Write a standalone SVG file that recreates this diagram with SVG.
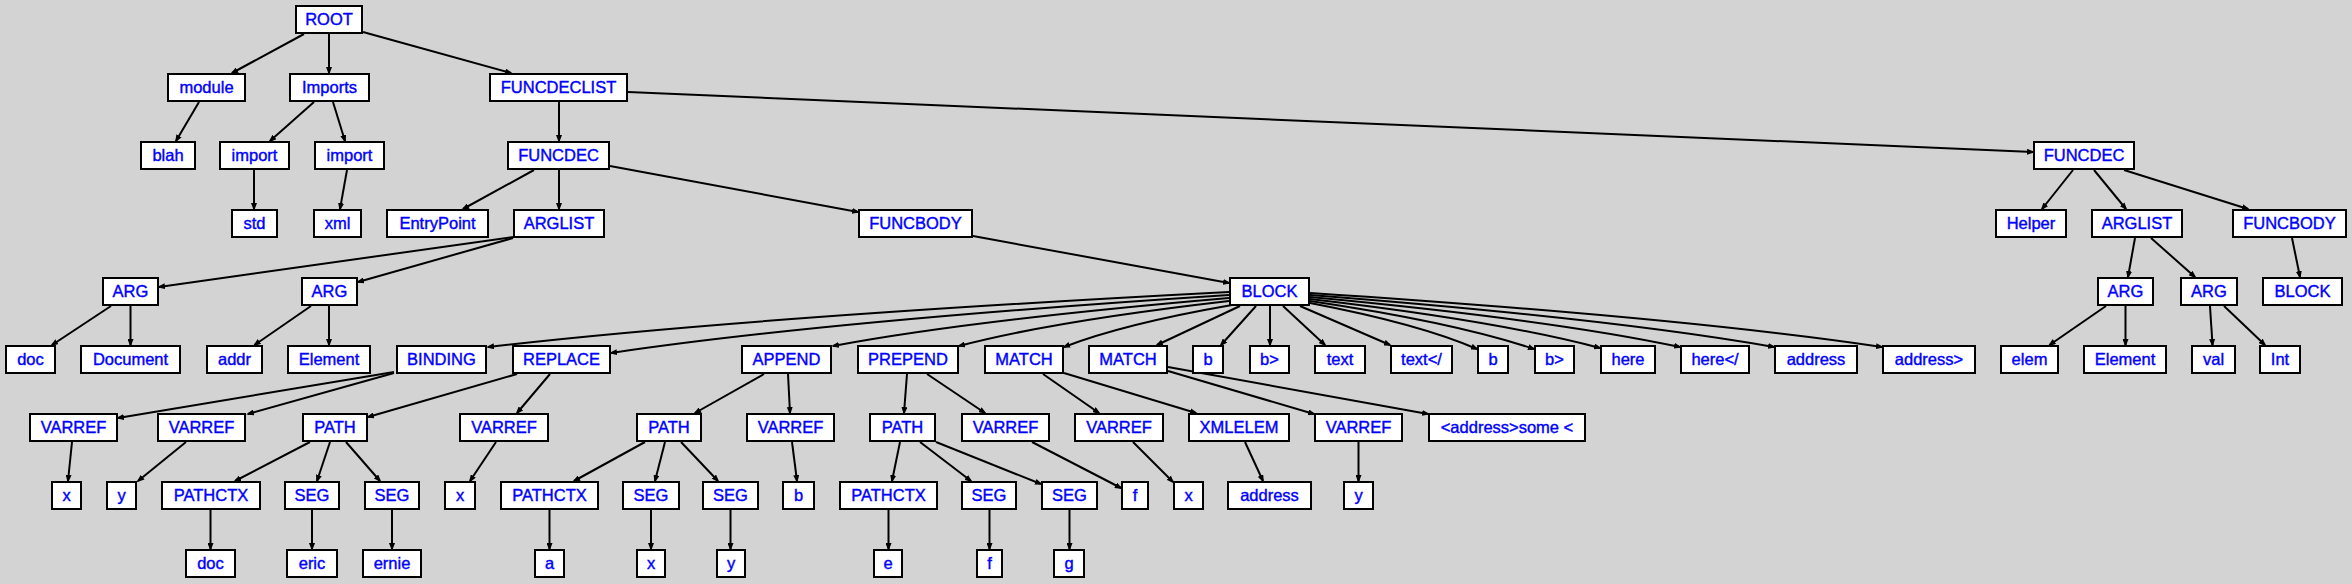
<svg xmlns="http://www.w3.org/2000/svg" width="2352" height="584" viewBox="0 0 2352 584">
<style>
.n rect{fill:#fff;stroke:#000;stroke-width:2}
.n text{font-family:"Liberation Sans",Arial,sans-serif;font-size:16.5px;fill:#0000ff;stroke:#0000ff;stroke-width:0.4px;text-anchor:middle}
.e path{fill:none;stroke:#000;stroke-width:2;marker-end:url(#ah)}
</style>
<defs>
<marker id="ah" markerUnits="userSpaceOnUse" markerWidth="8" markerHeight="6" refX="6" refY="3" orient="auto">
<path d="M0,0 L8,3 L0,6 z" fill="#000"/>
</marker>
</defs>
<rect x="0" y="0" width="2352" height="584" fill="#d3d3d3"/>
<g id="connectors" class="e">
<path d="M304,34 L232,73"/>
<path d="M329,34 L329,73"/>
<path d="M363,32 L511,73"/>
<path d="M199,102 L176,141"/>
<path d="M314,102 L270,141"/>
<path d="M333,102 L345,141"/>
<path d="M559,102 L559,141"/>
<path d="M628,92 L2033,152"/>
<path d="M254,170 L254,209"/>
<path d="M347,170 L340,209"/>
<path d="M534,170 L463,209"/>
<path d="M559,170 L559,209"/>
<path d="M610,166 L858,212"/>
<path d="M2073,170 L2042,209"/>
<path d="M2094,170 L2126,209"/>
<path d="M2124,170 L2248,209"/>
<path d="M513,237 L159,287"/>
<path d="M513,238 L358,282"/>
<path d="M973,236 L1229,283"/>
<path d="M2135,238 L2128,277"/>
<path d="M2151,238 L2195,277"/>
<path d="M2292,238 L2300,277"/>
<path d="M111,306 L52,345"/>
<path d="M130.5,306 L130.5,345"/>
<path d="M311,306 L254.5,345"/>
<path d="M329,306 L329,345"/>
<path d="M2106,306 L2049.5,345"/>
<path d="M2125.5,306 L2125.5,345"/>
<path d="M2210,306 L2212.5,345"/>
<path d="M2224,306 L2265,345"/>
<path d="M1229,292 Q747,317 488,347"/>
<path d="M1229,295 Q827,321 611,353"/>
<path d="M1229,298 Q972,320 833,346"/>
<path d="M1229,301 Q1054,321 959,346"/>
<path d="M1232,305 Q1123,324 1064,347"/>
<path d="M1240,306 L1157,345"/>
<path d="M1256,306 L1221,345"/>
<path d="M1270,306 L1270,345"/>
<path d="M1283,306 L1325,345"/>
<path d="M1300,306 L1390,345"/>
<path d="M1310,303 Q1418.5,323.7 1477,349"/>
<path d="M1310,301 Q1455.6,322.6 1534,349"/>
<path d="M1310,299 Q1498.5,321 1600,348"/>
<path d="M1310,297 Q1550.5,319.5 1680,347"/>
<path d="M1310,295 Q1611.6,318.4 1774,347"/>
<path d="M1310,293 Q1681.8,317.3 1882,347"/>
<path d="M394,372 L118,418"/>
<path d="M394,373 L248,414"/>
<path d="M517,374 L368,417"/>
<path d="M550,374 L517,413"/>
<path d="M764,374 L695,413"/>
<path d="M788,374 L790,413"/>
<path d="M907,374 L904,413"/>
<path d="M927,374 L985,413"/>
<path d="M1043,374 L1099,413"/>
<path d="M1064,373 L1196,413"/>
<path d="M1168,371 L1314,414"/>
<path d="M1168,367 L1428,414"/>
<path d="M72,442 L68,481"/>
<path d="M186,442 L138,481"/>
<path d="M310,442 L235,481"/>
<path d="M330,442 L317,481"/>
<path d="M346,442 L380,481"/>
<path d="M496,442 L470,481"/>
<path d="M645,442 L574,481"/>
<path d="M665,442 L655,481"/>
<path d="M681,442 L718,481"/>
<path d="M792,442 L797,481"/>
<path d="M900,442 L892,481"/>
<path d="M920,442 L971,481"/>
<path d="M936,442 L1041,484"/>
<path d="M1032,442 L1121,488"/>
<path d="M1133,442 L1173,482"/>
<path d="M1245,442 L1263,481"/>
<path d="M1358.5,442 L1358.5,481"/>
<path d="M210.5,510 L210.5,549"/>
<path d="M312,510 L312,549"/>
<path d="M392,510 L392,549"/>
<path d="M549.5,510 L549.5,549"/>
<path d="M651,510 L651,549"/>
<path d="M730.5,510 L730.5,549"/>
<path d="M888.5,510 L888.5,549"/>
<path d="M989.5,510 L989.5,549"/>
<path d="M1069.5,510 L1069.5,549"/>
</g>
<g id="root" class="n"><rect x="296" y="6" width="66" height="27"/><text x="329" y="24.5">ROOT</text></g>
<g id="module" class="n"><rect x="168" y="74" width="77" height="27"/><text x="206.5" y="92.5">module</text></g>
<g id="imports" class="n"><rect x="290" y="74" width="79" height="27"/><text x="329.5" y="92.5">Imports</text></g>
<g id="funcdeclist" class="n"><rect x="490" y="74" width="137" height="27"/><text x="558.5" y="92.5">FUNCDECLIST</text></g>
<g id="blah" class="n"><rect x="141" y="142" width="54" height="27"/><text x="168" y="160.5">blah</text></g>
<g id="import1" class="n"><rect x="220" y="142" width="69" height="27"/><text x="254.5" y="160.5">import</text></g>
<g id="import2" class="n"><rect x="315" y="142" width="69" height="27"/><text x="349.5" y="160.5">import</text></g>
<g id="funcdec1" class="n"><rect x="508" y="142" width="101" height="27"/><text x="558.5" y="160.5">FUNCDEC</text></g>
<g id="funcdec2" class="n"><rect x="2034" y="142" width="100" height="27"/><text x="2084" y="160.5">FUNCDEC</text></g>
<g id="std" class="n"><rect x="232" y="210" width="45" height="27"/><text x="254.5" y="228.5">std</text></g>
<g id="xml" class="n"><rect x="314" y="210" width="47" height="27"/><text x="337.5" y="228.5">xml</text></g>
<g id="entrypoint" class="n"><rect x="387" y="210" width="101" height="27"/><text x="437.5" y="228.5">EntryPoint</text></g>
<g id="arglist1" class="n"><rect x="514" y="210" width="90" height="27"/><text x="559" y="228.5">ARGLIST</text></g>
<g id="funcbody1" class="n"><rect x="859" y="210" width="113" height="27"/><text x="915.5" y="228.5">FUNCBODY</text></g>
<g id="helper" class="n"><rect x="1996" y="210" width="70" height="27"/><text x="2031" y="228.5">Helper</text></g>
<g id="arglist2" class="n"><rect x="2092" y="210" width="90" height="27"/><text x="2137" y="228.5">ARGLIST</text></g>
<g id="funcbody2" class="n"><rect x="2233" y="210" width="113" height="27"/><text x="2289.5" y="228.5">FUNCBODY</text></g>
<g id="arg1" class="n"><rect x="103" y="278" width="55" height="27"/><text x="130.5" y="296.5">ARG</text></g>
<g id="arg2" class="n"><rect x="302" y="278" width="55" height="27"/><text x="329.5" y="296.5">ARG</text></g>
<g id="block1" class="n"><rect x="1230" y="278" width="79" height="27"/><text x="1269.5" y="296.5">BLOCK</text></g>
<g id="arg3" class="n"><rect x="2098" y="278" width="55" height="27"/><text x="2125.5" y="296.5">ARG</text></g>
<g id="arg4" class="n"><rect x="2181" y="278" width="56" height="27"/><text x="2209" y="296.5">ARG</text></g>
<g id="block2" class="n"><rect x="2263" y="278" width="79" height="27"/><text x="2302.5" y="296.5">BLOCK</text></g>
<g id="doc1" class="n"><rect x="6" y="346" width="49" height="27"/><text x="30.5" y="364.5">doc</text></g>
<g id="document" class="n"><rect x="81" y="346" width="99" height="27"/><text x="130.5" y="364.5">Document</text></g>
<g id="addr" class="n"><rect x="207" y="346" width="55" height="27"/><text x="234.5" y="364.5">addr</text></g>
<g id="element1" class="n"><rect x="288" y="346" width="82" height="27"/><text x="329" y="364.5">Element</text></g>
<g id="binding" class="n"><rect x="397" y="346" width="89" height="27"/><text x="441.5" y="364.5">BINDING</text></g>
<g id="replace" class="n"><rect x="513" y="346" width="97" height="27"/><text x="561.5" y="364.5">REPLACE</text></g>
<g id="append" class="n"><rect x="742" y="346" width="89" height="27"/><text x="786.5" y="364.5">APPEND</text></g>
<g id="prepend" class="n"><rect x="858" y="346" width="100" height="27"/><text x="908" y="364.5">PREPEND</text></g>
<g id="match1" class="n"><rect x="985" y="346" width="78" height="27"/><text x="1024" y="364.5">MATCH</text></g>
<g id="match2" class="n"><rect x="1089" y="346" width="78" height="27"/><text x="1128" y="364.5">MATCH</text></g>
<g id="b1" class="n"><rect x="1193" y="346" width="30" height="27"/><text x="1208" y="364.5">b</text></g>
<g id="bgt1" class="n"><rect x="1250" y="346" width="39" height="27"/><text x="1269.5" y="364.5">b&gt;</text></g>
<g id="text1" class="n"><rect x="1315" y="346" width="50" height="27"/><text x="1340" y="364.5">text</text></g>
<g id="textlt" class="n"><rect x="1391" y="346" width="61" height="27"/><text x="1421.5" y="364.5">text&lt;/</text></g>
<g id="b2" class="n"><rect x="1478" y="346" width="30" height="27"/><text x="1493" y="364.5">b</text></g>
<g id="bgt2" class="n"><rect x="1535" y="346" width="39" height="27"/><text x="1554.5" y="364.5">b&gt;</text></g>
<g id="here" class="n"><rect x="1601" y="346" width="54" height="27"/><text x="1628" y="364.5">here</text></g>
<g id="herelt" class="n"><rect x="1681" y="346" width="68" height="27"/><text x="1715" y="364.5">here&lt;/</text></g>
<g id="address1" class="n"><rect x="1775" y="346" width="82" height="27"/><text x="1816" y="364.5">address</text></g>
<g id="addressgt" class="n"><rect x="1883" y="346" width="92" height="27"/><text x="1929" y="364.5">address&gt;</text></g>
<g id="elem" class="n"><rect x="2001" y="346" width="57" height="27"/><text x="2029.5" y="364.5">elem</text></g>
<g id="element2" class="n"><rect x="2084" y="346" width="82" height="27"/><text x="2125" y="364.5">Element</text></g>
<g id="val" class="n"><rect x="2192" y="346" width="43" height="27"/><text x="2213.5" y="364.5">val</text></g>
<g id="int" class="n"><rect x="2260" y="346" width="40" height="27"/><text x="2280" y="364.5">Int</text></g>
<g id="varref1" class="n"><rect x="30" y="414" width="87" height="27"/><text x="73.5" y="432.5">VARREF</text></g>
<g id="varref2" class="n"><rect x="158" y="414" width="87" height="27"/><text x="201.5" y="432.5">VARREF</text></g>
<g id="path1" class="n"><rect x="303" y="414" width="64" height="27"/><text x="335" y="432.5">PATH</text></g>
<g id="varref3" class="n"><rect x="460" y="414" width="88" height="27"/><text x="504" y="432.5">VARREF</text></g>
<g id="path2" class="n"><rect x="637" y="414" width="64" height="27"/><text x="669" y="432.5">PATH</text></g>
<g id="varref4" class="n"><rect x="747" y="414" width="87" height="27"/><text x="790.5" y="432.5">VARREF</text></g>
<g id="path3" class="n"><rect x="870" y="414" width="65" height="27"/><text x="902.5" y="432.5">PATH</text></g>
<g id="varref5" class="n"><rect x="962" y="414" width="87" height="27"/><text x="1005.5" y="432.5">VARREF</text></g>
<g id="varref6" class="n"><rect x="1075" y="414" width="88" height="27"/><text x="1119" y="432.5">VARREF</text></g>
<g id="xmlelem" class="n"><rect x="1189" y="414" width="100" height="27"/><text x="1239" y="432.5">XMLELEM</text></g>
<g id="varref7" class="n"><rect x="1315" y="414" width="87" height="27"/><text x="1358.5" y="432.5">VARREF</text></g>
<g id="addrsome" class="n"><rect x="1429" y="414" width="156" height="27"/><text x="1507" y="432.5">&lt;address&gt;some &lt;</text></g>
<g id="x1" class="n"><rect x="52" y="482" width="29" height="27"/><text x="66.5" y="500.5">x</text></g>
<g id="y1" class="n"><rect x="107" y="482" width="29" height="27"/><text x="121.5" y="500.5">y</text></g>
<g id="pathctx1" class="n"><rect x="162" y="482" width="98" height="27"/><text x="211" y="500.5">PATHCTX</text></g>
<g id="seg1" class="n"><rect x="285" y="482" width="54" height="27"/><text x="312" y="500.5">SEG</text></g>
<g id="seg2" class="n"><rect x="365" y="482" width="54" height="27"/><text x="392" y="500.5">SEG</text></g>
<g id="x2" class="n"><rect x="445" y="482" width="30" height="27"/><text x="460" y="500.5">x</text></g>
<g id="pathctx2" class="n"><rect x="501" y="482" width="97" height="27"/><text x="549.5" y="500.5">PATHCTX</text></g>
<g id="seg3" class="n"><rect x="623" y="482" width="56" height="27"/><text x="651" y="500.5">SEG</text></g>
<g id="seg4" class="n"><rect x="703" y="482" width="55" height="27"/><text x="730.5" y="500.5">SEG</text></g>
<g id="b3" class="n"><rect x="783" y="482" width="31" height="27"/><text x="798.5" y="500.5">b</text></g>
<g id="pathctx3" class="n"><rect x="840" y="482" width="97" height="27"/><text x="888.5" y="500.5">PATHCTX</text></g>
<g id="seg5" class="n"><rect x="962" y="482" width="54" height="27"/><text x="989" y="500.5">SEG</text></g>
<g id="seg6" class="n"><rect x="1042" y="482" width="55" height="27"/><text x="1069.5" y="500.5">SEG</text></g>
<g id="f1" class="n"><rect x="1122" y="482" width="26" height="27"/><text x="1135" y="500.5">f</text></g>
<g id="x3" class="n"><rect x="1174" y="482" width="29" height="27"/><text x="1188.5" y="500.5">x</text></g>
<g id="address2" class="n"><rect x="1228" y="482" width="83" height="27"/><text x="1269.5" y="500.5">address</text></g>
<g id="y2" class="n"><rect x="1344" y="482" width="29" height="27"/><text x="1358.5" y="500.5">y</text></g>
<g id="doc2" class="n"><rect x="186" y="550" width="49" height="27"/><text x="210.5" y="568.5">doc</text></g>
<g id="eric" class="n"><rect x="287" y="550" width="50" height="27"/><text x="312" y="568.5">eric</text></g>
<g id="ernie" class="n"><rect x="363" y="550" width="58" height="27"/><text x="392" y="568.5">ernie</text></g>
<g id="a" class="n"><rect x="535" y="550" width="29" height="27"/><text x="549.5" y="568.5">a</text></g>
<g id="x4" class="n"><rect x="637" y="550" width="28" height="27"/><text x="651" y="568.5">x</text></g>
<g id="y3" class="n"><rect x="717" y="550" width="28" height="27"/><text x="731" y="568.5">y</text></g>
<g id="e" class="n"><rect x="874" y="550" width="28" height="27"/><text x="888" y="568.5">e</text></g>
<g id="f2" class="n"><rect x="977" y="550" width="25" height="27"/><text x="989.5" y="568.5">f</text></g>
<g id="g" class="n"><rect x="1054" y="550" width="30" height="27"/><text x="1069" y="568.5">g</text></g>
</svg>
